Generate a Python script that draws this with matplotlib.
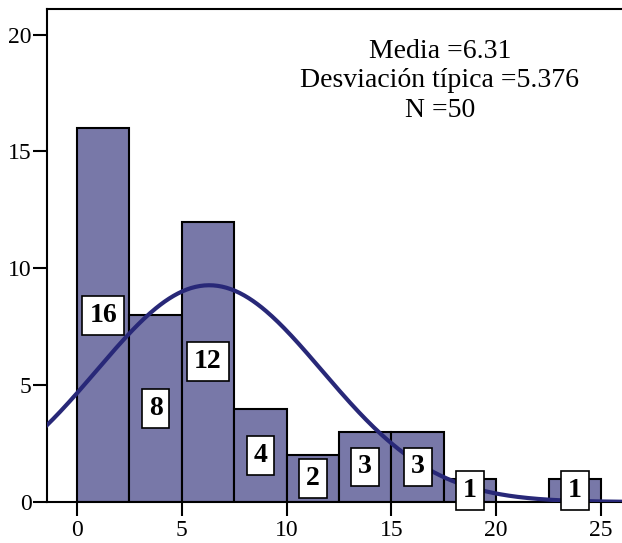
import matplotlib
matplotlib.use('Agg')
import matplotlib.pyplot as plt
import numpy as np

plt.rcParams['font.family'] = ['Liberation Serif', 'DejaVu Serif']

# histogram data (bins of width 2.5)
bin_edges = [0, 2.5, 5, 7.5, 10, 12.5, 15, 17.5, 20, 22.5, 25]
counts = [16, 8, 12, 4, 2, 3, 3, 1, 0, 1]
mean_val = 6.31
std_val = 5.376
n_val = 50

BAR_COLOR = '#7878a8'
CURVE_COLOR = '#282878'

fig = plt.figure(figsize=(6.22, 5.43), dpi=100)
ax = fig.add_axes([0.0756, 0.0755, 0.9244, 0.908])

lefts = np.array(bin_edges[:-1])
widths = np.diff(bin_edges)
ax.bar(lefts, counts, width=widths, align='edge', color=BAR_COLOR,
       edgecolor='black', linewidth=1.5, zorder=2)

# normal curve scaled to counts
xs = np.linspace(-1.5, 26.5, 400)
bw = widths[0]
ys = n_val * bw / (std_val * np.sqrt(2 * np.pi)) * np.exp(-0.5 * ((xs - mean_val) / std_val) ** 2)
ax.plot(xs, ys, color=CURVE_COLOR, linewidth=3, zorder=3, solid_capstyle='butt')

# count labels in white boxes at half height
for left, w, c in zip(lefts, widths, counts):
    if c == 0:
        continue
    ax.text(left + w / 2, c / 2, str(c), ha='center', va='center',
            fontsize=20, fontweight='bold', zorder=4,
            bbox=dict(boxstyle='square,pad=0.25', facecolor='white',
                      edgecolor='black', linewidth=1.2))

ax.text(0.683, 0.94, f'Media ={mean_val}\nDesviación típica ={std_val}\nN ={n_val}',
        transform=ax.transAxes, ha='center', va='top', fontsize=20,
        linespacing=1.25)

ax.set_xlim(-1.43, 26.0)
ax.set_ylim(0, 21.1)
ax.set_xticks([0, 5, 10, 15, 20, 25])
ax.set_yticks([0, 5, 10, 15, 20])
ax.tick_params(axis='both', direction='out', length=10, width=1.5, labelsize=17)
ax.tick_params(axis='x', pad=3)
ax.tick_params(axis='y', pad=1)
for s in ['left', 'top', 'bottom']:
    ax.spines[s].set_linewidth(1.5)
ax.spines['right'].set_visible(False)

plt.savefig('out.png', dpi=100)
